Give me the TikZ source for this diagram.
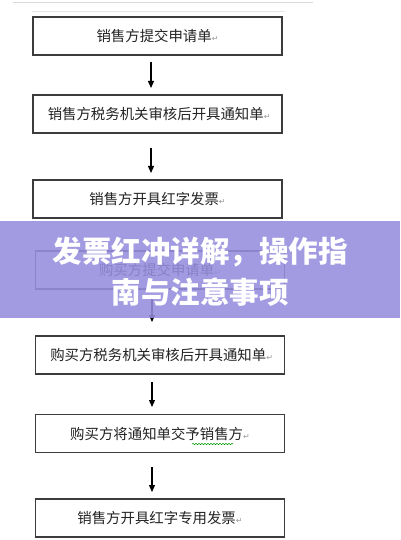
\documentclass[tikz,border=0pt]{standalone}
\usepackage{fontspec}
\setmainfont{Noto Sans CJK SC}
\newfontfamily\retfont{DejaVu Sans}
\usetikzlibrary{arrows.meta,decorations.pathmorphing}
\definecolor{boxline}{RGB}{60,60,60}
\definecolor{txt}{RGB}{35,35,35}
\definecolor{banner}{RGB}{150,142,222}
\tikzset{
  flowbox/.style={draw=boxline, line width=1.1pt, minimum width=249pt, minimum height=38pt, inner sep=0pt, text=txt, font=\fontsize{14.4}{16}\selectfont},
  flowarrow/.style={line width=1.2pt, -{Triangle[length=7pt,width=6pt]}, draw=black},
}
\newcommand{\ret}{{\retfont\color{gray!80}\fontsize{8}{8}\selectfont ↵}}
\begin{document}
\begin{tikzpicture}[x=1pt,y=-1pt]
\useasboundingbox (0,0) rectangle (400,540);
\fill[white] (0,0) rectangle (400,540);
\draw[gray!30, line width=1pt] (13,3) -- (313,3);
\draw[gray!20, line width=0.8pt] (32,11) -- (285,11);
\node[flowbox] (b1) at (157.5,36) {销售方提交申请单\ret};
\node[flowbox] (b2) at (157.5,114) {\ 销售方税务机关审核后开具通知单\ret};
\node[flowbox] (b3) at (157.5,199) {销售方开具红字发票\ret};
\node[flowbox] (b4) at (160,270) {购买方提交申请单\ret};
\node[flowbox] (b5) at (160,355) {\ 购买方税务机关审核后开具通知单\ret};
\node[flowbox] (b6) at (160,433.5) {购买方将通知单交予销售方\ret};
\node[flowbox] (b7) at (160,518) {销售方开具红字专用发票\ret};
\coordinate (a1s) at (151,62); \coordinate (a1e) at (151,88);
\coordinate (a2s) at (151,148); \coordinate (a2e) at (151,173);
\coordinate (a3s) at (152,296); \coordinate (a3e) at (152,322);
\coordinate (a4s) at (152,382); \coordinate (a4e) at (152,407);
\coordinate (a5s) at (152,467); \coordinate (a5e) at (152,492);
\draw[flowarrow] (a1s) -- (a1e);
\draw[flowarrow] (a2s) -- (a2e);
\draw[flowarrow] (a3s) -- (a3e);
\draw[flowarrow] (a4s) -- (a4e);
\draw[flowarrow] (a5s) -- (a5e);
\draw[green!60!black, line width=0.5pt, decorate, decoration={snake, amplitude=0.7pt, segment length=3pt}] (192,444) -- (233,444);
\fill[banner, opacity=0.88] (0,221) rectangle (400,318);
\node[text=white, font=\bfseries\fontsize{29.5}{41}\selectfont, align=center] (title) at (200,272) {发票红冲详解，操作指\\南与注意事项};
\end{tikzpicture}
\end{document}
